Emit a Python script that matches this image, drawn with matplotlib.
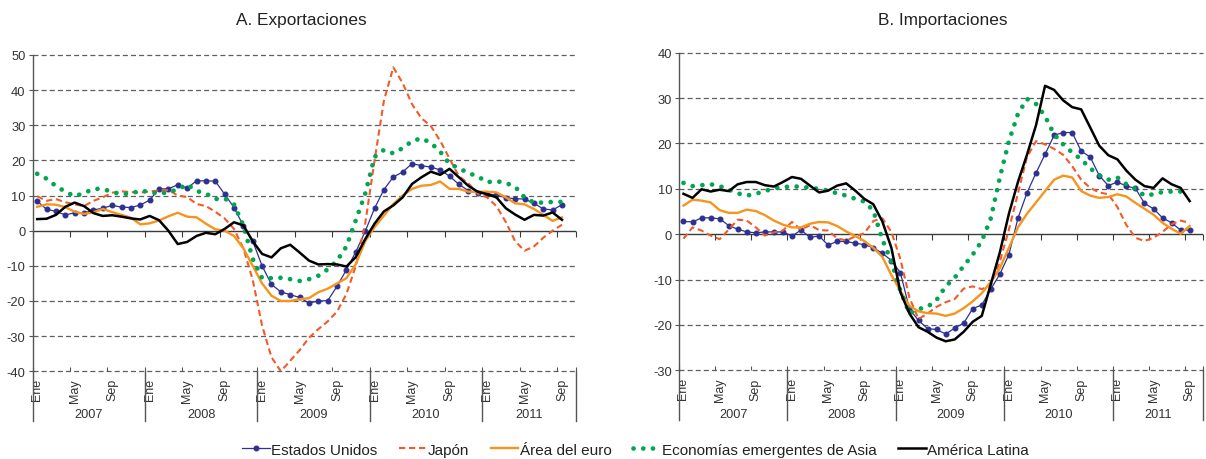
import matplotlib
matplotlib.use('Agg')
import matplotlib.pyplot as plt
import matplotlib.transforms as mtransforms
from matplotlib.lines import Line2D

plt.rcParams['font.family'] = ['Liberation Sans', 'DejaVu Sans']

# ---------------- data ----------------
years = ['2007', '2008', '2009', '2010', '2011']
month_labels = ['Ene', 'May', 'Sep']
n_slots = 58          # category slots Jan 2007 .. Oct 2011
series_names = ['Estados Unidos', 'Japón', 'Área del euro',
                'Economías emergentes de Asia', 'América Latina']

# A. Exportaciones (Jan 2007 .. Sep 2011)
eeuu_exp = [8.4, 6.1, 5.5, 4.5, 5.1, 5.0, 5.9, 6.4, 7.2, 6.7, 6.6, 7.3,
            8.7, 11.9, 11.9, 13.1, 12.1, 14.2, 14.2, 14.1, 10.4, 6.6, 1.4, -3.0,
            -10.0, -15.3, -17.4, -18.2, -19.0, -20.6, -20.0, -19.9, -15.8, -11.1, -6.0, -0.2,
            6.4, 11.7, 15.3, 16.7, 19.1, 18.5, 18.1, 17.3, 15.5, 13.2, 11.4, 10.8,
            10.5, 10.1, 9.4, 9.1, 9.0, 7.8, 6.2, 5.9, 7.4]
japon_exp = [9.8, 8.5, 9.0, 8.1, 7.5, 7.0, 8.5, 9.5, 10.8, 11.2, 11.0, 10.8,
             11.2, 11.4, 11.6, 10.0, 9.6, 7.6, 7.0, 5.4, 3.5, 0.5, -5.0, -14.0,
             -27.0, -36.0, -40.0, -37.0, -34.0, -30.5, -28.0, -25.8, -23.0, -18.0, -10.0, 2.0,
             20.0, 37.0, 46.5, 42.0, 36.0, 32.0, 29.8, 25.6, 20.5, 15.5, 13.5, 10.5,
             9.5, 7.0, 2.5, -3.0, -5.7, -4.5, -2.0, 0.0, 1.7]
euro_exp = [6.8, 7.5, 7.4, 6.7, 5.4, 4.8, 5.2, 6.2, 5.3, 4.5, 3.7, 1.8,
            2.1, 2.9, 4.1, 5.1, 4.0, 3.8, 2.0, 0.4, 0.0, -1.5, -5.0, -10.0,
            -15.0, -18.5, -20.0, -20.0, -19.5, -19.2, -17.5, -16.5, -15.0, -13.5, -9.5, -3.0,
            1.0, 4.3, 7.6, 10.0, 11.9, 12.8, 13.0, 14.0, 11.9, 11.9, 11.1, 11.1,
            11.1, 10.9, 9.5, 7.8, 7.5, 6.2, 4.5, 2.8, 3.8]
asia_exp = [16.2, 14.8, 12.7, 11.1, 9.8, 10.7, 11.9, 11.9, 11.0, 10.4, 10.6, 11.4,
            11.0, 10.5, 11.0, 11.7, 13.2, 11.3, 10.6, 9.0, 9.2, 7.5, 1.5, -8.0,
            -13.5, -13.5, -13.4, -13.8, -14.3, -13.8, -12.8, -11.0, -8.5, -4.5, 3.0, 10.5,
            21.0, 23.0, 22.0, 23.5, 25.5, 26.3, 25.0, 22.5, 19.0, 17.8, 16.4, 15.5,
            13.8, 14.1, 13.6, 12.5, 9.5, 8.0, 8.0, 8.2, 8.2]
latam_exp = [3.3, 3.4, 4.5, 6.8, 8.0, 7.0, 5.0, 4.2, 4.4, 4.0, 3.5, 3.2,
             4.2, 3.0, 0.0, -3.8, -3.2, -1.5, -0.6, -1.0, 0.5, 2.4, 1.5, -3.0,
             -6.6, -7.6, -5.0, -4.0, -6.2, -8.5, -9.6, -9.5, -9.6, -10.2, -7.5, -2.4,
             2.0, 5.5, 7.2, 9.5, 13.3, 15.2, 16.8, 15.9, 17.6, 15.2, 12.8, 11.1,
             10.4, 9.5, 6.4, 4.6, 3.1, 4.5, 4.3, 5.2, 3.1]

# B. Importaciones (Jan 2007 .. Sep 2011)
eeuu_imp = [2.8, 2.7, 3.6, 3.6, 3.4, 1.9, 1.1, 0.5, 0.3, 0.5, 0.5, 0.5,
            -0.4, 0.9, -0.7, -0.4, -2.4, -1.6, -1.6, -2.0, -2.3, -3.0, -4.2, -5.8,
            -8.5, -16.5, -19.0, -20.8, -21.0, -22.0, -20.7, -19.6, -16.4, -15.6, -12.1, -8.8,
            -4.5, 3.5, 9.1, 13.5, 17.6, 21.8, 22.4, 22.4, 18.3, 17.0, 12.9, 10.7,
            11.5, 10.6, 10.1, 6.8, 5.6, 3.6, 2.5, 0.9, 0.9]
japon_imp = [-1.0, 1.5, 0.8, -0.3, -1.1, 1.0, 3.2, 3.0, 1.5, -0.3, 0.4, 0.8,
             2.7, 1.0, 2.0, 0.9, 0.8, -0.9, -1.4, -0.5, 0.2, 2.9, 3.5, 0.5,
             -5.5, -14.0, -18.7, -17.5, -16.0, -15.0, -14.3, -12.0, -11.5, -12.1, -11.3, -6.0,
             1.0, 9.0, 17.0, 20.5, 19.8, 18.8, 17.5, 15.0, 12.0, 10.2, 9.2, 8.8,
             6.0, 2.0, -0.8, -1.5, -0.8, 0.5, 2.2, 3.0, 2.5]
euro_imp = [6.3, 7.6, 7.4, 7.0, 5.3, 4.7, 4.7, 5.4, 5.1, 4.2, 3.0, 2.1,
            1.5, 1.5, 2.3, 2.7, 2.6, 1.8, 0.6, -0.4, -1.5, -3.0, -5.0, -9.0,
            -12.5, -15.8, -17.0, -17.4, -17.5, -18.0, -17.5, -16.3, -14.8, -13.0, -10.5, -7.5,
            -3.0, 1.5, 4.5, 7.0, 9.5, 12.0, 12.9, 12.5, 9.5, 8.5, 8.0, 8.2,
            8.8, 8.3, 6.9, 5.6, 4.3, 2.5, 1.2, 0.1, 1.8]
asia_imp = [11.3, 10.6, 10.8, 11.0, 10.6, 9.8, 9.0, 8.5, 8.9, 9.5, 10.1, 10.4,
            10.5, 10.5, 10.2, 10.0, 9.6, 9.0, 8.5, 7.8, 7.2, 5.2, -1.2, -6.0,
            -12.5, -17.5, -16.5, -16.0, -14.5, -11.5, -9.6, -7.0, -4.5, -1.5, 3.5, 12.5,
            20.5, 26.5, 29.8, 28.7, 26.0, 22.0, 19.8, 18.0, 16.5, 14.5, 13.0, 12.0,
            12.5, 11.0, 10.0, 8.5, 8.8, 9.3, 9.4, 9.4, 9.5]
latam_imp = [8.9, 8.0, 9.9, 9.4, 9.8, 9.5, 11.0, 11.5, 11.5, 10.8, 10.5, 11.5,
             12.6, 12.2, 10.7, 9.2, 9.6, 10.7, 11.2, 9.6, 7.8, 6.6, 2.8, -3.0,
             -12.8, -17.5, -20.5, -21.5, -22.8, -23.6, -23.2, -21.5, -19.3, -18.0, -11.0, -4.0,
             4.5, 11.5, 17.5, 24.0, 32.7, 31.8, 29.5, 28.0, 27.5, 23.5, 19.5, 17.4,
             16.5, 14.0, 12.0, 10.6, 10.2, 12.3, 11.0, 10.2, 7.3]

# ---------------- styles ----------------
BLUE = '#2E3192'
RED = '#F15A29'
ORANGE = '#F7941D'
GREEN = '#00A651'
BLACK = '#000000'
TXT = '#333333'
GRID = '#5f5f5f'

styles = [
    dict(color=BLUE, lw=0.9, marker='o', ms=3.3, mec=BLUE, mfc=BLUE, zorder=3),
    dict(color=RED, lw=1.5, ls=(0, (3.0, 1.8)), zorder=4),
    dict(color=ORANGE, lw=1.7, zorder=5),
    dict(color=GREEN, lw=3.4, ls=(0, (0.01, 2.05)), dash_capstyle='round', zorder=6),
    dict(color=BLACK, lw=1.8, zorder=7),
]

fig = plt.figure(figsize=(12.06, 4.6), dpi=100)
axA = fig.add_axes([0.02695, 0.1907, 0.4507, 0.6876])
axB = fig.add_axes([0.5630, 0.1928, 0.4347, 0.6905])


def draw_panel(ax, series, ylim, ystep, title, title_x):
    x = list(range(len(series[0])))
    for vals, st in zip(series, styles):
        ax.plot(x, vals, **st)
    ax.set_xlim(-0.5, n_slots - 0.5)
    ax.set_ylim(*ylim)
    yt = list(range(ylim[0], ylim[1] + 1, ystep))
    ax.set_yticks(yt)
    ax.set_yticklabels([str(v) for v in yt])
    for v in yt:
        if v != 0:
            ax.axhline(v, color=GRID, lw=0.9, ls=(0, (4, 2.5)), zorder=0.5,
                       clip_on=False)
    ax.axhline(0, color='#3a3a3a', lw=1.0, zorder=1)
    for s in ['top', 'right', 'bottom']:
        ax.spines[s].set_visible(False)
    ax.spines['left'].set_color('#555555')
    ax.spines['left'].set_linewidth(1.0)
    ax.tick_params(axis='y', direction='out', length=3, width=0.8,
                   color='#555555', labelsize=9.3, labelcolor=TXT, pad=2)
    # month labels
    pos, labs = [], []
    for k in range(len(years)):
        for j, m in enumerate(month_labels):
            p = 12 * k + 4 * j
            if p < n_slots:
                pos.append(p)
                labs.append(m)
    ax.set_xticks(pos)
    ax.set_xticklabels(labs, rotation=90, va='top', ha='center')
    ax.tick_params(axis='x', length=0, labelsize=9.0, labelcolor=TXT, pad=5)
    # tick marks at category boundaries
    bounds = [12 * k + 4 * j - 0.5 for k in range(len(years)) for j in range(3)]
    bounds = [b for b in bounds if b <= n_slots - 0.5] + [n_slots - 0.5]
    ax.plot(bounds, [0] * len(bounds), ls='none', marker=3, ms=4, mew=0.8,
            color='#3a3a3a', zorder=1, clip_on=False)
    ax.plot(bounds, [ylim[0]] * len(bounds), ls='none', marker=2, ms=3,
            mew=0.8, color='#555555', zorder=1, clip_on=False)
    # year separators and labels
    trans = mtransforms.blended_transform_factory(ax.transData, ax.transAxes)
    seps = [12 * k - 0.5 for k in range(len(years))] + [n_slots - 0.5]
    for s in seps:
        ax.plot([s, s], [0, -0.158], transform=trans, color='#555555',
                lw=1.0, clip_on=False)
    for k, yr in enumerate(years):
        c = (seps[k] + seps[k + 1]) / 2
        ax.text(c, -0.136, yr, transform=trans, ha='center', va='center',
                fontsize=9.2, color=TXT)
    fig.text(title_x, 0.9565, title, ha='center', va='center',
             fontsize=12.4, color='#222222')


draw_panel(axA, [eeuu_exp, japon_exp, euro_exp, asia_exp, latam_exp],
           (-40, 50), 10, 'A. Exportaciones', 0.2500)
draw_panel(axB, [eeuu_imp, japon_imp, euro_imp, asia_imp, latam_imp],
           (-30, 40), 10, 'B. Importaciones', 0.782)

handles = [Line2D([], [], **{k: v for k, v in st.items() if k != 'zorder'})
           for st in styles]
fig.legend(handles, series_names, loc='center', bbox_to_anchor=(0.527, 0.02),
           ncol=5, frameon=False, fontsize=11.0, handlelength=1.8,
           handletextpad=0.1, columnspacing=1.4, labelcolor='#222222')

fig.savefig('out.png', dpi=100)
